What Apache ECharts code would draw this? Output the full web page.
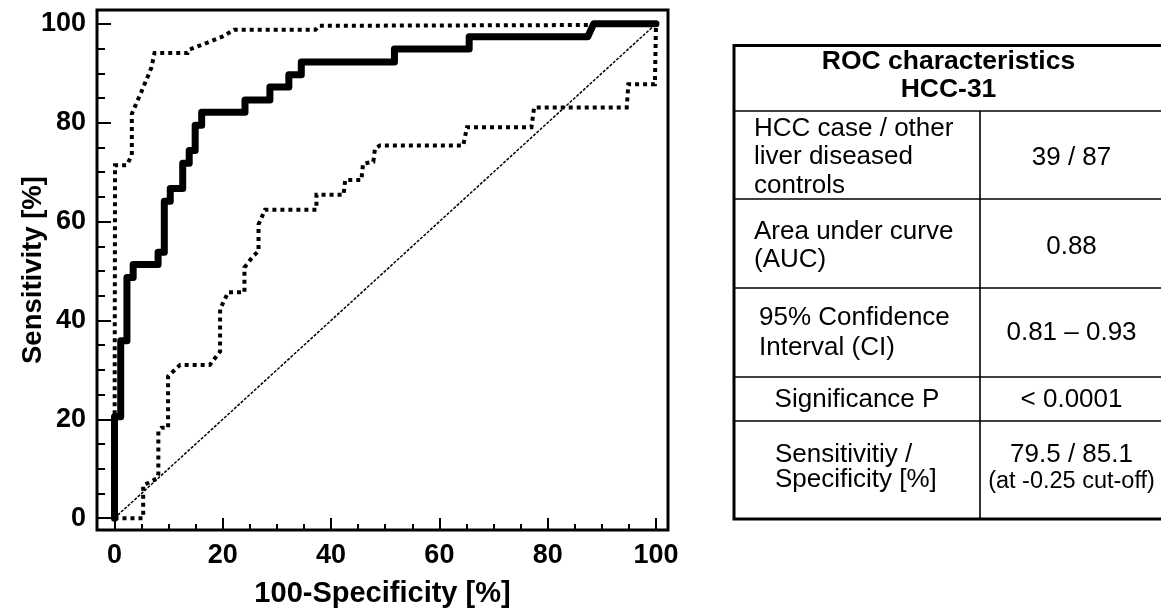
<!DOCTYPE html>
<html>
<head>
<meta charset="utf-8">
<script src="https://cdn.jsdelivr.net/npm/echarts@6/dist/echarts.min.js"></script>
<style>
html,body{margin:0;padding:0;background:#fff;}
#chart{width:1161px;height:613px;}
</style>
</head>
<body>
<div id="chart"></div>
<script>
// ---------- data ----------
const xTicks = [0, 20, 40, 60, 80, 100];
const yTicks = [0, 20, 40, 60, 80, 100];
const xMinorTicks = [5, 10, 15, 25, 30, 35, 45, 50, 55, 65, 70, 75, 85, 90, 95];
const yMinorTicks = [5, 10, 15, 25, 30, 35, 45, 50, 55, 65, 70, 75, 85, 90, 95];

const rocCurve = [[0,0],[0,20.5],[1.15,20.5],[1.15,35.9],[2.3,35.9],[2.3,48.7],[3.45,48.7],[3.45,51.3],
  [8.05,51.3],[8.05,53.8],[9.2,53.8],[9.2,64.1],[10.3,64.1],[10.3,66.7],[12.6,66.7],[12.6,71.8],
  [13.8,71.8],[13.8,74.4],[14.9,74.4],[14.9,79.5],[16.1,79.5],[16.1,82.1],[24.1,82.1],[24.1,84.6],
  [28.7,84.6],[28.7,87.2],[32.2,87.2],[32.2,89.7],[34.5,89.7],[34.5,92.3],[51.7,92.3],[51.7,94.9],
  [65.5,94.9],[65.5,97.4],[87.4,97.4],[88.5,100],[100,100]];

const upperCI = [[0,0],[0.1,71.4],[2.25,71.4],[3.2,73.4],[3.2,81.8],[5.3,87.1],[6.8,91.1],[7.4,94.1],
  [13.5,94.1],[13.8,94.8],[17.2,96.2],[19.9,97.4],[22.1,98.8],[37.1,98.8],[37.7,99.6],[100,99.8],[100,100]];

const lowerCI = [[0,0],[5.3,0],[5.3,6.6],[7.8,8.0],[8.1,9.0],[8.1,17.6],[8.7,18.3],[9.9,18.3],[9.9,28.7],
  [12.1,31.0],[17.6,31.0],[19.5,33.7],[19.5,42.3],[21.0,45.7],[24.0,45.7],[24.0,50.7],[24.1,51.0],
  [25.6,53.0],[26.6,54.0],[26.6,59.4],[27.8,62.4],[37.3,62.4],[37.3,65.4],[42.3,65.4],[42.6,68.4],
  [45.6,68.4],[45.9,71.7],[47.8,72.1],[48.1,74.7],[49.0,75.4],[64.4,75.4],[65.1,79.1],[77.0,79.1],
  [77.5,83.1],[94.6,83.1],[94.9,87.8],[99.8,87.8],[100,100]];

const diagonal = [[0,0],[100,100]];

const tableHeader = ['ROC characteristics', 'HCC-31'];
const rowLabels = ['HCC case / other\nliver diseased\ncontrols', 'Area under curve\n(AUC)',
  '95% Confidence\nInterval (CI)', 'Significance P', 'Sensitivitiy /\nSpecificity [%]'];
const rowValues = ['39 / 87', '0.88', '0.81 \u2013 0.93', '< 0.0001', '79.5 / 85.1'];
const rowNote = '(at -0.25 cut-off)';

// ---------- layout ----------
const FONT = '"Liberation Sans", Arial, Helvetica, sans-serif';
const T = {left: 734, right: 1163, col: 980, rows: [45.5, 111, 199, 288, 377, 421, 519]};
const labelPos = [
  {x: 754, y: 157, align: 'left', lh: 28.5},
  {x: 754, y: 246, align: 'left', lh: 28.5},
  {x: 759, y: 333, align: 'left', lh: 30},
  {x: 857, y: 400, align: 'center', lh: 28},
  {x: 775, y: 467, align: 'left', lh: 25}
];
const valueY = [158, 247, 333, 400, 455];

const graphics = [];
graphics.push({type:'rect', shape:{x:T.left, y:T.rows[0], width:T.right-T.left, height:T.rows[6]-T.rows[0]},
  style:{fill:'none', stroke:'#000', lineWidth:3}, z:10});
for (let i = 1; i < T.rows.length - 1; i++) {
  graphics.push({type:'line', shape:{x1:T.left, y1:T.rows[i], x2:T.right, y2:T.rows[i]},
    style:{stroke:'#000', lineWidth:1.6}, z:10});
}
graphics.push({type:'line', shape:{x1:T.col, y1:T.rows[1], x2:T.col, y2:T.rows[6]},
  style:{stroke:'#000', lineWidth:1.6}, z:10});
const headerCx = (T.left + T.right) / 2;
tableHeader.forEach((t, i) => {
  graphics.push({type:'text', x: headerCx, y: i === 0 ? 62 : 90, z:11,
    style:{text:t, fill:'#000', font:'bold 26.5px ' + FONT, align:'center', verticalAlign:'middle',
      textAlign:'center', textVerticalAlign:'middle'}});
});
const valueCx = (T.col + T.right) / 2;
rowLabels.forEach((t, i) => {
  const p = labelPos[i];
  graphics.push({type:'text', x:p.x, y:p.y, z:11,
    style:{text:t, fill:'#000', font:'26px ' + FONT, lineHeight:p.lh, align:p.align, verticalAlign:'middle',
      textAlign:p.align, textVerticalAlign:'middle'}});
  graphics.push({type:'text', x:valueCx, y:valueY[i], z:11,
    style:{text:rowValues[i], fill:'#000', font:'26px ' + FONT, align:'center', verticalAlign:'middle',
      textAlign:'center', textVerticalAlign:'middle'}});
});
graphics.push({type:'text', x:valueCx, y:482, z:11,
  style:{text:rowNote, fill:'#000', font:'23.5px ' + FONT, align:'center', verticalAlign:'middle',
    textAlign:'center', textVerticalAlign:'middle'}});

// ---------- chart ----------
const chart = echarts.init(document.getElementById('chart'), null, {renderer:'canvas'});
const tickStyle = {color:'#000', width:2};
const labelStyle = {color:'#000', fontSize:27, fontWeight:'bold', fontFamily:FONT};

// axis extents (frame extends slightly beyond 0..100)
const X_MIN = -3.23, X_MAX = 102.22, Y_MIN = -2.4, Y_MAX = 102.8;

function lineSeries(name, data, width, type, z) {
  return {name, type:'line', xAxisIndex:0, yAxisIndex:0, data, symbol:'none', clip:false, z,
    lineStyle:{color:'#000', width, type, cap: type === 'solid' ? 'round' : 'butt', join: type === 'solid' ? 'round' : 'miter'},
    silent:true};
}

chart.setOption({
  animation:false,
  backgroundColor:'#fff',
  grid:{left:97, top:10, width:571, height:525, show:true, borderColor:'#000', borderWidth:3, backgroundColor:'transparent'},
  xAxis:[
    {type:'value', position:'bottom', min:X_MIN, max:X_MAX,
      axisLine:{show:false, onZero:false}, splitLine:{show:false},
      axisTick:{show:true, inside:true, length:12, lineStyle:tickStyle, customValues:xTicks},
      axisLabel:Object.assign({margin:12, customValues:xTicks, formatter: v => String(v)}, labelStyle),
      name:'100-Specificity [%]', nameLocation:'middle', nameGap:49, nameMoveOverlap:false,
      nameTextStyle:{color:'#000', fontSize:29, fontWeight:'bold', fontFamily:FONT}},
    {type:'value', position:'bottom', offset:0, min:X_MIN, max:X_MAX,
      axisLine:{show:false, onZero:false}, splitLine:{show:false}, axisLabel:{show:false},
      axisTick:{show:true, inside:true, length:6, lineStyle:tickStyle, customValues:xMinorTicks}}
  ],
  yAxis:[
    {type:'value', position:'left', min:Y_MIN, max:Y_MAX,
      axisLine:{show:false, onZero:false}, splitLine:{show:false},
      axisTick:{show:true, inside:true, length:14, lineStyle:tickStyle, customValues:yTicks},
      axisLabel:Object.assign({margin:11, customValues:yTicks, formatter: v => String(v)}, labelStyle),
      name:'Sensitivity [%]', nameLocation:'middle', nameGap:50, nameMoveOverlap:false,
      nameTextStyle:{color:'#000', fontSize:27.5, fontWeight:'bold', fontFamily:FONT}},
    {type:'value', position:'left', offset:0, min:Y_MIN, max:Y_MAX,
      axisLine:{show:false, onZero:false}, splitLine:{show:false}, axisLabel:{show:false},
      axisTick:{show:true, inside:true, length:8, lineStyle:tickStyle, customValues:yMinorTicks}}
  ],
  series:[
    lineSeries('reference', diagonal, 1.5, [3, 1.5], 2),
    lineSeries('upper 95% CI', upperCI, 4, [4, 4], 3),
    lineSeries('lower 95% CI', lowerCI, 4, [4, 4], 3),
    lineSeries('ROC HCC-31', rocCurve, 7, 'solid', 5)
  ],
  graphic: graphics
});
</script>
</body>
</html>
